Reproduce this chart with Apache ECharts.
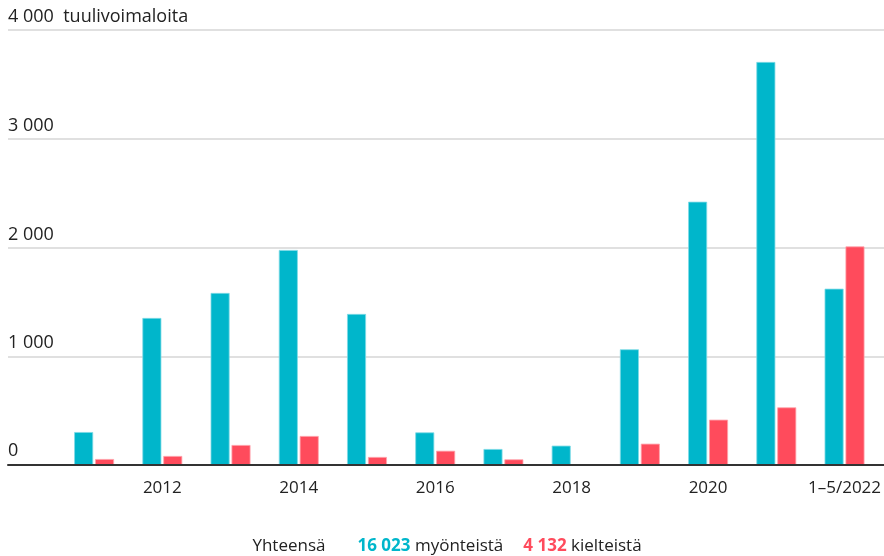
<!DOCTYPE html>
<html>
<head>
<meta charset="utf-8">
<script src="https://cdn.jsdelivr.net/npm/echarts@6/dist/echarts.min.js"></script>
<style>
  html, body { margin: 0; padding: 0; background: #fff; }
  #main { width: 884px; height: 556px; }
</style>
</head>
<body>
<div id="main"></div>
<script>
var myChart = echarts.init(document.getElementById('main'));

var years = ['2011', '2012', '2013', '2014', '2015', '2016', '2017', '2018', '2019', '2020', '2021', '1–5/2022'];
var myonteisia = [303, 1352, 1582, 1977, 1389, 300, 147, 178, 1064, 2421, 3706, 1621];
var kielteisia = [55, 83, 184, 267, 74, 131, 52, 6, 196, 417, 530, 2010];
var yTicks = [0, 1000, 2000, 3000, 4000];

var font = 'Open Sans';

function fmt(v) {
    return String(v).replace(/\B(?=(\d{3})+(?!\d))/g, ' ');
}

myChart.setOption({
    backgroundColor: '#fff',
    textStyle: { fontFamily: font },
    grid: [
        // gridlines + labels, full width
        { left: 8, right: 0, top: 30, bottom: 91 },
        // bars
        { left: 60, right: 4, top: 30, bottom: 91 }
    ],
    xAxis: [{
        gridIndex: 0,
        type: 'value',
        min: 0,
        max: 1,
        axisLine: { show: true, lineStyle: { color: '#333', width: 2 } },
        axisTick: { show: false },
        axisLabel: { show: false },
        splitLine: { show: false },
        z: 5
    }, {
        gridIndex: 1,
        type: 'category',
        data: years,
        axisLine: { show: false },
        axisTick: { show: false },
        axisLabel: {
            interval: function (idx) { return idx % 2 === 1; },
            color: '#222',
            fontSize: 17,
            fontFamily: font,
            margin: 15
        }
    }],
    yAxis: [{
        gridIndex: 0,
        type: 'value',
        min: yTicks[0],
        max: yTicks[yTicks.length - 1],
        interval: 1000,
        axisLine: { show: false },
        axisTick: { show: false },
        splitLine: { lineStyle: { color: '#d6d6d6', width: 1.5 } },
        axisLabel: {
            inside: true,
            margin: 0,
            align: 'left',
            verticalAlign: 'bottom',
            padding: [0, 0, 4, 0],
            color: '#222',
            fontSize: 18,
            fontFamily: font,
            formatter: function (v) {
                if (v === 0) return '';
                if (v === 4000) return fmt(v) + '  tuulivoimaloita';
                return fmt(v);
            }
        }
    }, {
        gridIndex: 1,
        type: 'value',
        min: 0,
        max: 4000,
        show: false,
        splitLine: { show: false }
    }],
    graphic: [{
        type: 'text',
        left: 8,
        top: 442,
        style: { text: '0', fill: '#222', font: '18px "Open Sans"' }
    }, {
        type: 'text',
        x: 447,
        y: 546,
        style: {
            text: '{n|Yhteensä}{c|16 023}{n| myönteistä}{r|4 132}{n| kielteistä}',
            align: 'center',
            verticalAlign: 'middle',
            rich: {
                n: { fontSize: 17, fontFamily: font, fill: '#222' },
                c: { fontSize: 17, fontFamily: font, fontWeight: 'bold', fill: '#00b6cb', padding: [0, 0, 0, 32] },
                r: { fontSize: 17, fontFamily: font, fontWeight: 'bold', fill: '#ff4b5c', padding: [0, 0, 0, 20] }
            }
        }
    }],
    series: [{
        name: 'myönteisiä',
        type: 'bar',
        xAxisIndex: 1,
        yAxisIndex: 1,
        data: myonteisia,
        barWidth: 19,
        barGap: '10%',
        itemStyle: { color: '#00b6cb', borderColor: '#7fdbe6', borderWidth: 0.8 },
        z: 3
    }, {
        name: 'kielteisiä',
        type: 'bar',
        xAxisIndex: 1,
        yAxisIndex: 1,
        data: kielteisia,
        barWidth: 19,
        barGap: '10%',
        itemStyle: { color: '#ff4b5c', borderColor: '#ffa3ac', borderWidth: 0.8 },
        z: 3
    }]
});
</script>
</body>
</html>
